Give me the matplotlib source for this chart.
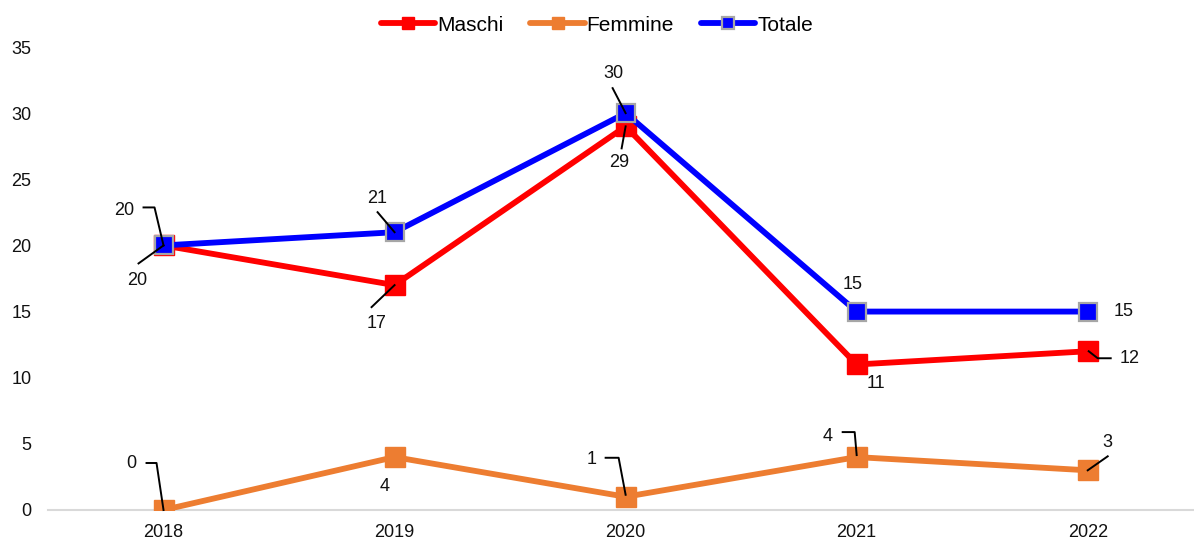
import matplotlib
matplotlib.use("Agg")
import matplotlib.pyplot as plt
import matplotlib.transforms as mtransforms

plt.rcParams['font.family'] = ['Liberation Sans', 'DejaVu Sans']

years = ["2018", "2019", "2020", "2021", "2022"]
maschi = [20, 17, 29, 11, 12]
femmine = [0, 4, 1, 4, 3]
totale = [20, 21, 30, 15, 15]

W, H = 1194, 539
fig = plt.figure(figsize=(W / 100, H / 100), dpi=100)
ax = fig.add_axes([48 / W, 1 - 510 / H, (W - 48) / W, (510 - 47) / H])

x = list(range(len(years)))
red, orange, blue = "#FF0000", "#ED7D31", "#0000FF"
ax.plot(x, maschi, color=red, lw=4.2, marker="s", ms=14, mec=red, mfc=red,
        label="Maschi", zorder=3, solid_joinstyle="round", solid_capstyle="round")
ax.plot(x, femmine, color=orange, lw=4.2, marker="s", ms=14, mec=orange, mfc=orange,
        label="Femmine", zorder=3, solid_joinstyle="round", solid_capstyle="round")
ax.plot(x, totale, color=blue, lw=4.2, marker="s", ms=13, mec="#A6A6A6", mew=1.6,
        mfc=blue, label="Totale", zorder=4, solid_joinstyle="round", solid_capstyle="round")

ax.set_xlim(-0.5, 4.46)
ax.set_ylim(0, 35)
ax.set_yticks(range(0, 36, 5))
ax.set_xticks(x)
ax.set_xticklabels(years)
for s in ["top", "right", "left"]:
    ax.spines[s].set_visible(False)
ax.spines["bottom"].set_color("#D9D9D9")
ax.spines["bottom"].set_linewidth(1.5)
ax.tick_params(axis="both", length=0, labelsize=13, colors="#111111")
ax.tick_params(axis="y", pad=12)
ax.tick_params(axis="x", pad=10)

# labels: (series, index, text offset (dx, dy_down) px, leader path offsets px)
labels = [
    (maschi, 0, (-26, 35), [(-25, 18), (0, 0)]),
    (maschi, 1, (-18, 38), [(-23, 22), (0, 0)]),
    (maschi, 2, (-6, 36), [(-4, 22), (0, 0)]),
    (maschi, 3, (19, 19), None),
    (maschi, 4, (42, 7), [(1, 0), (10, 7), (23, 7)]),
    (totale, 0, (-39, -35), [(-20, -38), (-9, -38), (0, 0)]),
    (totale, 1, (-17, -34), [(-17, -20), (0, 0)]),
    (totale, 2, (-12, -40), [(-13, -25), (0, 0)]),
    (totale, 3, (-4, -27), None),
    (totale, 4, (36, 0), None),
    (femmine, 0, (-32, -46), [(-17, -47), (-7, -47), (0, 0)]),
    (femmine, 1, (-10, 29), None),
    (femmine, 2, (-34, -37), [(-20, -39), (-7, -39), (0, -2)]),
    (femmine, 3, (-29, -21), [(-14, -25), (-2, -25), (0, -2)]),
    (femmine, 4, (20, -28), [(0, 0), (20, -14)]),
]
for series, i, (dx, dy), path in labels:
    val = series[i]
    base = ax.transData.transform((i, val))
    tr = mtransforms.Affine2D().translate(base[0], base[1])
    ax.text(dx, -dy, str(val), transform=tr, ha="center", va="center",
            fontsize=13, color="#111111", zorder=6)
    if path:
        ax.plot([p[0] for p in path], [-p[1] for p in path], transform=tr,
                color="black", lw=1.4, zorder=5, clip_on=False)

fig.legend(loc="center", bbox_to_anchor=(0.5, 1 - 25 / H), ncol=3, frameon=False,
           fontsize=15, handlelength=2.6, handletextpad=0.1, columnspacing=1.3,
           markerscale=0.65)

fig.savefig("out.png", dpi=100)
